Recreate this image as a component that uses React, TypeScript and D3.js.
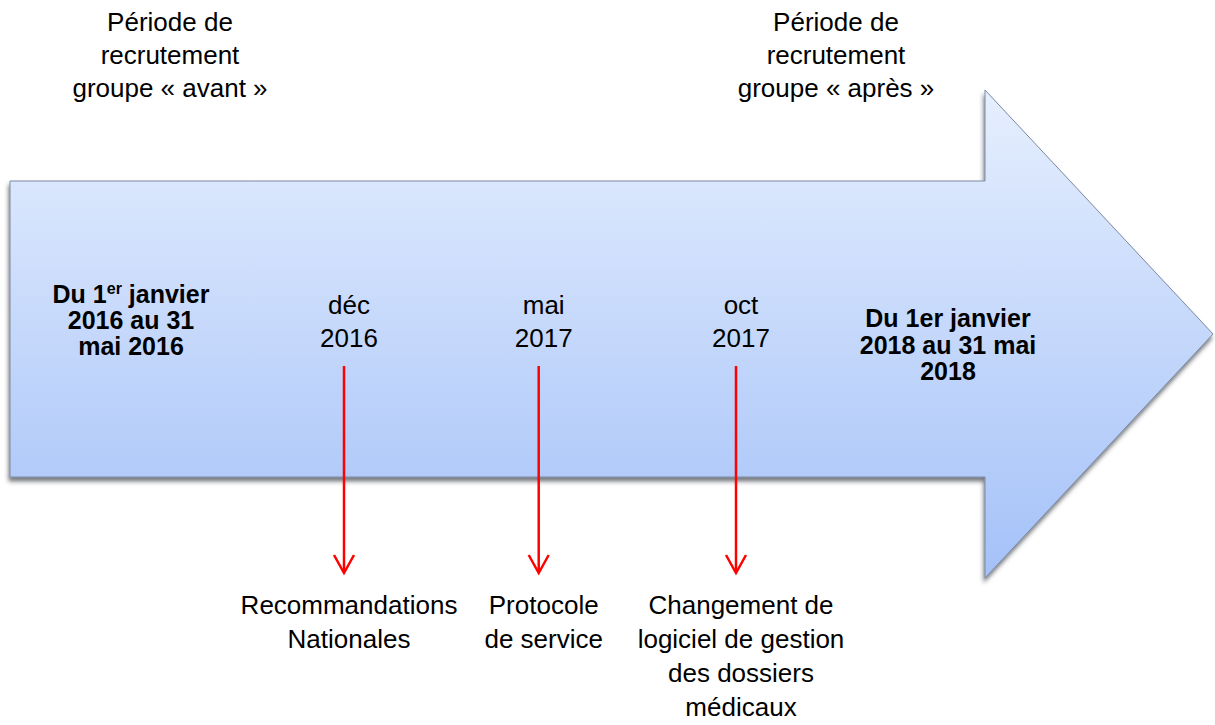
import React, { useRef, useEffect } from 'react';
import * as d3 from 'd3';

// Textes de l'entête
const headerAvant = ['Période de', 'recrutement', 'groupe « avant »'];
const headerApres = ['Période de', 'recrutement', 'groupe « après »'];

// Périodes de recrutement (dans la flèche)
const periodeAvant = ['2016 au 31', 'mai 2016'];
const periodeApres = ['Du 1er janvier', '2018 au 31 mai', '2018'];

// Événements
const eventDates = ['2016-12', '2017-05', '2017-10'];
const eventMois = ['déc', 'mai', 'oct'];
const eventAnnee = ['2016', '2017', '2017'];
const eventLabels = [
  ['Recommandations', 'Nationales'],
  ['Protocole', 'de service'],
  ['Changement de', 'logiciel de gestion', 'des dossiers', 'médicaux'],
];

const W = 1215;
const H = 725;
const FONT = 'Liberation Sans, Arial, sans-serif';

const plot = (svgRef: React.RefObject<SVGSVGElement | null>) => {
  const svgEl = d3.select(svgRef.current);
  svgEl.selectAll('*').remove();

  const parse = d3.timeParse('%Y-%m');
  const dates = eventDates.map((d) => parse(d) as Date);

  const xScale = d3.scaleTime()
    .domain(d3.extent(dates) as [Date, Date])
    .range([344, 736]);

  const defs = svgEl.append('defs');
  const grad = defs.append('linearGradient')
    .attr('id', 'flecheGrad')
    .attr('x1', 0).attr('y1', 0).attr('x2', 0).attr('y2', 1);
  grad.append('stop').attr('offset', '0%').attr('stop-color', '#e6effe');
  grad.append('stop').attr('offset', '100%').attr('stop-color', '#a4c1f8');

  const filt = defs.append('filter')
    .attr('id', 'ombre')
    .attr('x', '-5%').attr('y', '-5%').attr('width', '110%').attr('height', '115%');
  filt.append('feDropShadow')
    .attr('dx', -1).attr('dy', 4)
    .attr('stdDeviation', 2.2)
    .attr('flood-color', '#2a2f3a')
    .attr('flood-opacity', 0.65);

  const g = svgEl.append('g');

  // Grande flèche
  const shaftTop = 181, shaftBot = 477, left = 10, notch = 985;
  const headTop = 90, headBot = 578, tip = 1213;
  const tipY = (headTop + headBot) / 2;
  const path = d3.path();
  path.moveTo(left, shaftTop);
  path.lineTo(notch, shaftTop);
  path.lineTo(notch, headTop);
  path.lineTo(tip, tipY);
  path.lineTo(notch, headBot);
  path.lineTo(notch, shaftBot);
  path.lineTo(left, shaftBot);
  path.closePath();

  g.append('path')
    .attr('d', path.toString())
    .attr('fill', 'url(#flecheGrad)')
    .attr('stroke', '#7d8aa3')
    .attr('stroke-width', 1)
    .attr('filter', 'url(#ombre)');

  const text = (x: number, y: number, s: string, bold = false) =>
    g.append('text')
      .attr('x', x).attr('y', y)
      .attr('text-anchor', 'middle')
      .attr('font-family', FONT)
      .attr('font-size', bold ? 25 : 26)
      .attr('font-weight', bold ? 'bold' : 'normal')
      .attr('fill', '#000')
      .text(s);

  // Entêtes
  headerAvant.forEach((s, i) => text(170, 31 + i * 33, s));
  headerApres.forEach((s, i) => text(836, 31 + i * 33, s));

  // Période avant (avec exposant)
  const first = g.append('text')
    .attr('x', 131).attr('y', 303)
    .attr('text-anchor', 'middle')
    .attr('font-family', FONT)
    .attr('font-size', 25)
    .attr('font-weight', 'bold');
  first.append('tspan').text('Du 1');
  first.append('tspan').attr('font-size', 16).attr('dy', -9).text('er');
  first.append('tspan').attr('dy', 9).text(' janvier');
  periodeAvant.forEach((s, i) => text(131, 329 + i * 26, s, true));

  // Période après
  periodeApres.forEach((s, i) => text(948, 327 + i * 26.5, s, true));

  // Événements
  dates.forEach((d, i) => {
    const x = xScale(d);
    text(x + 5, 314, eventMois[i]);
    text(x + 5, 347, eventAnnee[i]);

    g.append('line')
      .attr('x1', x).attr('x2', x)
      .attr('y1', 366).attr('y2', 572)
      .attr('stroke', '#ff0000')
      .attr('stroke-width', 2.5);
    g.append('path')
      .attr('d', `M${x - 10},${555} L${x},${573} L${x + 10},${555}`)
      .attr('fill', 'none')
      .attr('stroke', '#ff0000')
      .attr('stroke-width', 2.5);

    eventLabels[i].forEach((s, j) => text(x + 5, 614 + j * 34, s));
  });
};

export default function App() {
  const svgRef = useRef<SVGSVGElement | null>(null);

  useEffect(() => {
    plot(svgRef);
  }, []);

  return (
    <svg
      ref={svgRef}
      width={W}
      height={H}
      style={{ position: 'absolute', left: 0, top: 0, background: '#fff' }}
    />
  );
}
